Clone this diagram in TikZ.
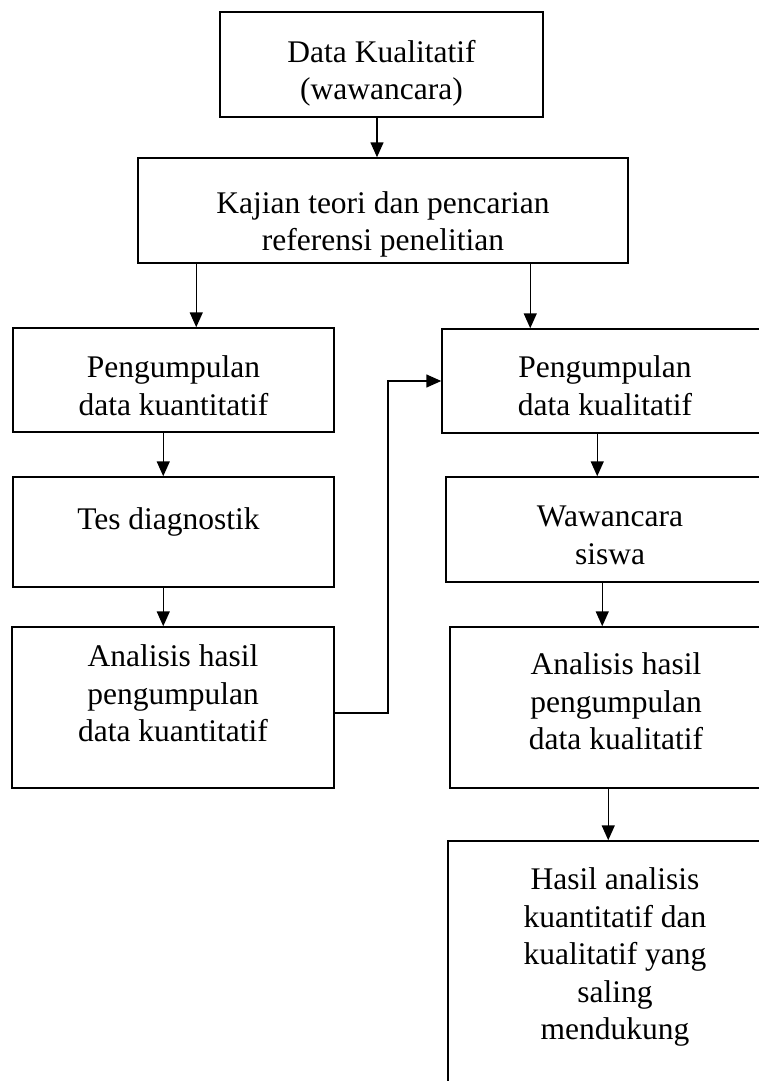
\documentclass[tikz,border=0pt]{standalone}
\usepackage{fontspec}
\setmainfont{Liberation Serif}
\usetikzlibrary{positioning,arrows.meta}

\begin{document}
\begin{tikzpicture}[x=1pt,y=-1pt,
  kotak/.style={rectangle,draw=black,line width=1.5pt,inner sep=0pt},
  teks/.style={align=center,inner sep=0pt,font=\fontsize{31.5pt}{37.5pt}\selectfont},
  panah/.style={-{Triangle[length=15pt,width=13pt]},line width=1.5pt}]
  \useasboundingbox (0,0) rectangle (759,1081);
  \clip (0,0) rectangle (759,1081);
  % kotak
  \node (datakual) at (381.5,64.5) [kotak,minimum width=323pt,minimum height=105pt] {};
  \node (kajian) at (383,210.5) [kotak,minimum width=490pt,minimum height=105pt] {};
  \node (kuan) at (173.5,380) [kotak,minimum width=321pt,minimum height=104pt] {};
  \node (tes) at (173.5,532) [kotak,minimum width=321pt,minimum height=110pt] {};
  \node (anakuan) at (173,707.5) [kotak,minimum width=322pt,minimum height=161pt] {};
  \node (kual) at (605,381) [kotak,minimum width=326pt,minimum height=104pt] {};
  \node (waw) at (610,529.5) [kotak,minimum width=328pt,minimum height=105pt] {};
  \node (anakual) at (616,707.5) [kotak,minimum width=332pt,minimum height=161pt] {};
  \node (hasil) at (615,1000) [kotak,minimum width=334pt,minimum height=318pt] {};
  % teks
  \node (datakual-t) [teks,below=28.5pt of datakual.north] {Data Kualitatif\\(wawancara)};
  \node (kajian-t) [teks,below=34pt of kajian.north] {Kajian teori dan pencarian\\referensi penelitian};
  \node (kuan-t) [teks,below=28.5pt of kuan.north] {Pengumpulan\\data kuantitatif};
  \node (tes-t) [teks,below=31.5pt of tes.north,xshift=-5pt] {Tes diagnostik};
  \node (anakuan-t) [teks,below=18.5pt of anakuan.north] {Analisis hasil\\pengumpulan\\data kuantitatif};
  \node (kual-t) [teks,below=27.5pt of kual.north] {Pengumpulan\\data kualitatif};
  \node (waw-t) [teks,below=29.5pt of waw.north] {Wawancara\\siswa};
  \node (anakual-t) [teks,below=26.5pt of anakual.north] {Analisis hasil\\pengumpulan\\data kualitatif};
  \node (hasil-t) [teks,below=27.5pt of hasil.north] {Hasil analisis\\kuantitatif dan\\kualitatif yang\\saling\\mendukung};
  % panah
  \draw[panah] ([xshift=-4.5pt]datakual.south) -- ([xshift=-4.5pt]datakual.south |- kajian.north);
  \draw[panah] ([xshift=59pt]kajian.south west) -- ([xshift=59pt]kajian.south west |- kuan.north);
  \draw[panah] ([xshift=393pt]kajian.south west) -- ([xshift=393pt]kajian.south west |- kual.north);
  \draw[panah] ([xshift=151pt]kuan.south west) -- ([xshift=151pt]kuan.south west |- tes.north);
  \draw[panah] ([xshift=151pt]tes.south west) -- ([xshift=151pt]tes.south west |- anakuan.north);
  \draw[panah] ([yshift=-5.5pt]anakuan.east) -- ++(53pt,0pt) |- (kual.west);
  \draw[panah] ([xshift=156pt]kual.south west) -- ([xshift=156pt]kual.south west |- waw.north);
  \draw[panah] ([xshift=157pt]waw.south west) -- ([xshift=157pt]waw.south west |- anakual.north);
  \draw[panah] ([xshift=159pt]anakual.south west) -- ([xshift=159pt]anakual.south west |- hasil.north);
\end{tikzpicture}
\end{document}
